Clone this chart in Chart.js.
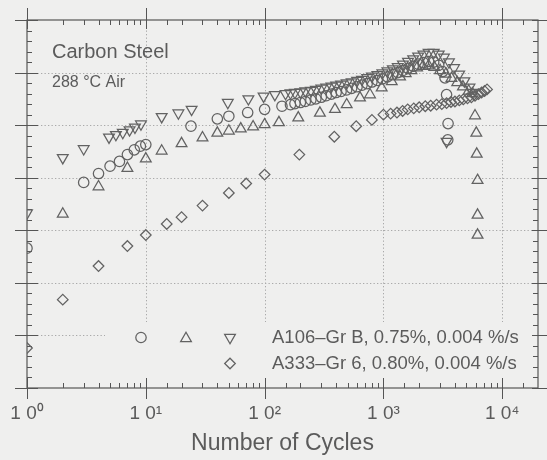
<!DOCTYPE html>
<html>
<head>
<meta charset="utf-8">
<script src="https://cdn.jsdelivr.net/npm/chart.js@4/dist/chart.umd.min.js"></script>
<style>
  html, body { margin: 0; padding: 0; background: #efefee; }
  #wrap { width: 547px; height: 460px; }
  canvas { display: block; }
</style>
</head>
<body>
<div id="wrap"><canvas id="c" width="547" height="460"></canvas></div>
<script>
// ---------------- data ----------------
const xTickDecades = [1, 10, 100, 1000, 10000];
const xTickLabels = ['1 0\u2070', '1 0\u00B9', '1 0\u00B2', '1 0\u00B3', '1 0\u2074'];

// A106-Gr B, specimen 1 (circles)
const circleN = [1, 3, 4, 5, 6, 7, 8, 9, 10, 24, 40, 50, 72, 100, 140,
  165, 180, 200, 220, 245, 270, 300, 330, 365, 400, 440, 490, 540, 600, 660,
  730, 800, 890, 980, 1080, 1200, 1320, 1460, 1610, 1780, 1960, 2170, 2400,
  2650, 2920, 3150, 3300, 3400, 3500, 3480];
const circleV = [2.66, 3.91, 4.08, 4.22, 4.31, 4.44, 4.53, 4.60, 4.63, 4.98, 5.12, 5.17, 5.24, 5.30, 5.36,
  5.39, 5.41, 5.43, 5.45, 5.48, 5.50, 5.53, 5.56, 5.59, 5.62, 5.64, 5.67, 5.70, 5.73, 5.76,
  5.79, 5.82, 5.85, 5.88, 5.92, 5.96, 6.00, 6.04, 6.08, 6.12, 6.16, 6.19, 6.21,
  6.20, 6.14, 6.02, 5.90, 5.58, 5.03, 4.72];

// A106-Gr B, specimen 2 (upward triangles)
const triUpN = [2, 4, 7, 10, 13.6, 20, 30, 40, 50, 63, 80, 100, 132, 192, 292, 391, 491, 635, 771, 967,
  1175, 1380, 1540, 1720, 1920, 2150, 2400, 2680, 3000, 3350, 3740, 4180, 4670, 5220, 5600,
  5900, 6050, 6100, 6200, 6200, 6200];
const triUpV = [3.31, 3.83, 4.18, 4.36, 4.51, 4.65, 4.76, 4.85, 4.89, 4.93, 4.97, 5.01, 5.05, 5.14, 5.23, 5.30, 5.39, 5.52, 5.58, 5.71,
  5.83, 5.92, 5.98, 6.04, 6.09, 6.12, 6.13, 6.10, 6.04, 5.97, 5.89, 5.81, 5.73, 5.65, 5.60,
  5.18, 4.85, 4.45, 3.95, 3.29, 2.91];

// A106-Gr B, specimen 3 (downward triangles)
const triDownN = [1, 2, 3, 4.9, 5.6, 6.4, 7.3, 8.1, 9.1, 13.6, 18.8, 24.3, 49, 73, 98, 122,
  150, 165, 180, 200, 220, 245, 270, 300, 330, 365, 400, 440, 490, 540, 600, 660, 730, 800,
  890, 980, 1080, 1200, 1320, 1460, 1610, 1780, 1960, 2170, 2400, 2650, 2920, 3230, 3560,
  3930, 4340, 4800, 5300, 5700, 3400];
const triDownV = [3.33, 4.38, 4.55, 4.77, 4.82, 4.86, 4.91, 4.96, 5.02, 5.16, 5.23, 5.30, 5.43, 5.50, 5.55, 5.58,
  5.60, 5.61, 5.62, 5.63, 5.65, 5.66, 5.68, 5.70, 5.72, 5.74, 5.76, 5.78, 5.80, 5.82, 5.85, 5.87, 5.90, 5.93,
  5.96, 5.99, 6.03, 6.07, 6.11, 6.16, 6.21, 6.26, 6.31, 6.35, 6.38, 6.38, 6.35, 6.29, 6.20,
  6.09, 5.97, 5.84, 5.72, 5.62, 4.69];

// A333-Gr 6 (diamonds)
const diamondN = [1, 2, 4, 7, 10, 15, 20, 30, 50, 70, 100, 196, 386, 590, 800, 1000, 1150, 1300, 1450,
  1600, 1800, 2000, 2250, 2500, 2800, 3100, 3400, 3700, 4000, 4350, 4700, 5100, 5500, 5900,
  6300, 6700, 7100, 7450];
const diamondV = [0.76, 1.68, 2.32, 2.70, 2.91, 3.12, 3.25, 3.47, 3.71, 3.89, 4.06, 4.44, 4.78, 4.98, 5.10, 5.20, 5.22, 5.24, 5.27,
  5.30, 5.32, 5.34, 5.36, 5.37, 5.39, 5.40, 5.42, 5.44, 5.45, 5.47, 5.49, 5.51, 5.53, 5.56,
  5.59, 5.62, 5.65, 5.68];

const legendLine1 = 'A106\u2013Gr B, 0.75%, 0.004 %/s';
const legendLine2 = 'A333\u2013Gr 6, 0.80%, 0.004 %/s';
const noteLine1 = 'Carbon Steel';
const noteLine2 = '288 \u00B0C Air';
const xTitle = 'Number of Cycles';

// ---------------- styling ----------------
const BG = '#efefee';
const INK = '#5b5b5b';
const MARK = '#626262';
const GRID = '#a9a9a9';
const FONT = "'Liberation Sans', Arial, Helvetica, sans-serif";

Chart.defaults.font.family = FONT;
Chart.defaults.color = INK;

const pts = (xs, ys) => xs.map((v, i) => ({ x: v, y: ys[i] }));
const isDecade = v => Math.abs(Math.log10(v) - Math.round(Math.log10(v))) < 1e-9;

const markStyle = {
  showLine: false,
  borderColor: MARK,
  backgroundColor: 'rgba(0,0,0,0)',
  pointBorderWidth: 1.25,
  pointHoverRadius: 5
};

const sets = [
  Object.assign({ label: 'circles', data: pts(circleN, circleV), pointStyle: 'circle', pointRadius: 5.2 }, markStyle),
  Object.assign({ label: 'up', data: pts(triUpN, triUpV), pointStyle: 'triangle', pointRadius: 6.2 }, markStyle),
  Object.assign({ label: 'down', data: pts(triDownN, triDownV), pointStyle: 'triangle', pointRotation: 180, pointRadius: 6.2 }, markStyle),
  Object.assign({ label: 'diamond', data: pts(diamondN, diamondV), pointStyle: 'rectRot', pointRadius: 5.3 }, markStyle)
];

function drawMarker(ctx, style, r, rot, x, y) {
  ctx.save();
  ctx.strokeStyle = MARK;
  ctx.lineWidth = 1.25;
  if (Chart.helpers && Chart.helpers.drawPoint) {
    ctx.fillStyle = 'rgba(0,0,0,0)';
    Chart.helpers.drawPoint(ctx, { pointStyle: style, radius: r, rotation: rot, borderWidth: 1.25 }, x, y);
  } else {
    ctx.beginPath();
    if (style === 'circle') ctx.arc(x, y, r, 0, Math.PI * 2);
    else if (style === 'rectRot') { ctx.moveTo(x - r, y); ctx.lineTo(x, y - r); ctx.lineTo(x + r, y); ctx.lineTo(x, y + r); ctx.closePath(); }
    else {
      let a = rot * Math.PI / 180;
      for (let k = 0; k < 3; k++) {
        const px = x + Math.sin(a) * r, py = y - Math.cos(a) * r;
        k ? ctx.lineTo(px, py) : ctx.moveTo(px, py);
        a += 2 * Math.PI / 3;
      }
      ctx.closePath();
    }
    ctx.stroke();
  }
  ctx.restore();
}

const framePlugin = {
  id: 'frame',
  beforeDraw(chart) {
    const { ctx } = chart;
    ctx.save();
    ctx.fillStyle = BG;
    ctx.fillRect(0, 0, chart.width, chart.height);
    ctx.restore();
  },
  beforeDatasetsDraw(chart) {
    const { ctx, chartArea: a, scales: { x, y } } = chart;
    const L = a.left, R = a.right, T = a.top, B = a.bottom;
    const line = (x1, y1, x2, y2) => { ctx.beginPath(); ctx.moveTo(x1, y1); ctx.lineTo(x2, y2); ctx.stroke(); };
    ctx.save();
    // dotted grid
    ctx.strokeStyle = GRID;
    ctx.lineWidth = 1;
    ctx.setLineDash([1.3, 2.2]);
    x.ticks.forEach(t => {
      if (isDecade(t.value) && t.value > x.min && t.value < x.max) {
        const px = Math.round(x.getPixelForValue(t.value)) + 0.5;
        line(px, T, px, B);
      }
    });
    y.ticks.forEach(t => {
      if (t.value > y.min && t.value < y.max) {
        const py = Math.round(y.getPixelForValue(t.value)) + 0.5;
        line(L, py, R, py);
      }
    });
    ctx.setLineDash([]);
    // legend panel covers the grid
    ctx.fillStyle = BG;
    ctx.fillRect(105, 322, R - 106, B - 323);

    // frame
    ctx.strokeStyle = '#555';
    ctx.lineWidth = 1.2;
    ctx.strokeRect(L, T, R - L, B - T);

    // ticks on x (bottom & top)
    ctx.lineWidth = 1;
    x.ticks.forEach(t => {
      const px = Math.round(x.getPixelForValue(t.value)) + 0.5;
      if (t.value < x.min || t.value > x.max) return;
      if (isDecade(t.value)) {
        line(px, B - 10, px, B + 11);
        line(px, T - 12, px, T + 9);
      } else if (t.value < x.max) {
        line(px, B - 5, px, B);
        line(px, T, px, T + 5);
      }
    });
    // ticks on y (left & right)
    y.ticks.forEach(t => {
      const py = Math.round(y.getPixelForValue(t.value)) + 0.5;
      line(L - 12, py, L + 11, py);
      line(R - 6, py, R + 9, py);
    });
    for (let v = y.min; v < y.max - 1e-9; v += 1) {
      for (let k = 1; k < 5; k++) {
        const py = Math.round(y.getPixelForValue(v + k * 0.2)) + 0.5;
        line(L, py, L + 5, py);
        line(R - 5, py, R, py);
      }
    }
    ctx.restore();
  },
  afterDatasetsDraw(chart) {
    const { ctx } = chart;
    ctx.save();
    ctx.fillStyle = INK;
    ctx.textBaseline = 'middle';
    ctx.textAlign = 'left';
    ctx.font = '20px ' + FONT;
    ctx.fillText(noteLine1, 52, 52);
    ctx.font = '16px ' + FONT;
    ctx.fillText(noteLine2, 52, 82.5);
    // legend
    drawMarker(ctx, 'circle', 5.2, 0, 141, 337.5);
    drawMarker(ctx, 'triangle', 6.2, 0, 186, 338.5);
    drawMarker(ctx, 'triangle', 6.2, 180, 230, 337.5);
    drawMarker(ctx, 'rectRot', 5.3, 0, 230, 363.5);
    ctx.font = '18.5px ' + FONT;
    ctx.fillStyle = INK;
    ctx.fillText(legendLine1, 272, 337.5);
    ctx.fillText(legendLine2, 272, 363.5);
    ctx.restore();
  }
};

new Chart(document.getElementById('c'), {
  type: 'scatter',
  data: { datasets: sets },
  options: {
    responsive: false,
    animation: false,
    devicePixelRatio: 1,
    layout: { padding: { top: 20, right: 9, left: 0, bottom: 0 } },
    plugins: { legend: { display: false }, tooltip: { enabled: false } },
    scales: {
      x: {
        type: 'logarithmic',
        position: 'bottom',
        min: 1,
        max: 20000,
        grid: { display: false },
        border: { display: false },
        ticks: {
          autoSkip: false,
          maxRotation: 0,
          minRotation: 0,
          padding: 6,
          color: INK,
          font: { size: 19 },
          callback: (v) => {
            const i = xTickDecades.findIndex(d => Math.abs(d - v) < 1e-6 * d);
            return i >= 0 ? xTickLabels[i] : '';
          }
        },
        title: {
          display: true,
          text: xTitle,
          color: INK,
          font: { size: 23 },
          padding: { top: 0, bottom: 3 }
        },
        afterFit: s => { s.height = 72; }
      },
      y: {
        min: 0,
        max: 7,
        grid: { display: false },
        border: { display: false },
        ticks: { stepSize: 1, display: false },
        afterFit: s => { s.width = 27; }
      }
    }
  },
  plugins: [framePlugin]
});
</script>
</body>
</html>
